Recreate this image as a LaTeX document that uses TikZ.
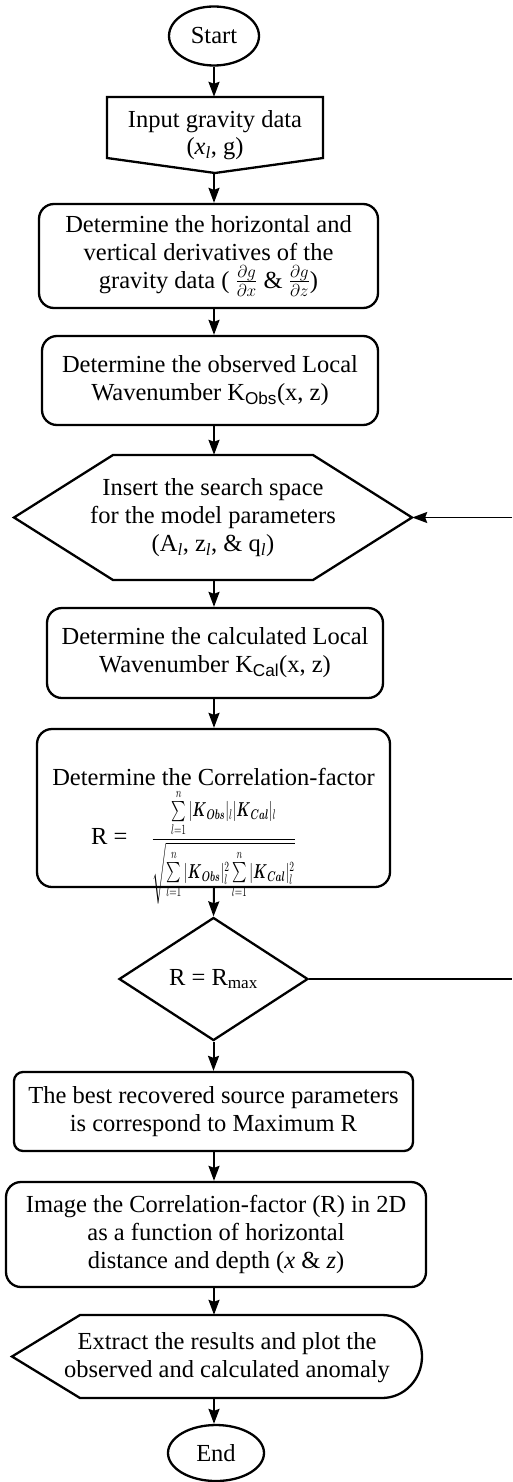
\documentclass[tikz,border=0pt]{standalone}
\usepackage{fontspec}
\setmainfont{Liberation Serif}
\setsansfont{Liberation Sans}
\usepackage{amsmath}
\usepackage{tikz}
\usetikzlibrary{shapes,arrows,arrows.meta,positioning}

\begin{document}
\begin{tikzpicture}[
    x=1pt, y=-1pt,
    terminal/.style={ellipse, draw=black, line width=2.3pt, inner sep=0pt, font=\fontsize{24.5}{28}\selectfont},
    procbox/.style={rectangle, draw=black, line width=2.3pt, rounded corners=15pt, inner sep=0pt, align=center, font=\fontsize{24.5}{28}\selectfont},
    decision/.style={diamond, draw=black, line width=2.3pt, inner sep=0pt, font=\fontsize{24.5}{28}\selectfont},
    outline/.style={draw=black, line width=2.3pt, line join=miter},
    label/.style={align=center, inner sep=0pt, font=\fontsize{24.5}{28}\selectfont},
    flow/.style={-{Stealth[length=15pt, width=11pt, inset=2pt]}, line width=2pt},
    loop/.style={line width=1.4pt}
]
\useasboundingbox (0,0) rectangle (512,1482);

% Start
\node[terminal, minimum width=90pt, minimum height=59pt] (start) at (214,36) {Start};

% Input data - off-page shape
\draw[outline] (107,97) -- (323,97) -- (323,158) -- (215,173) -- (107,158) -- cycle;
\node[label, minimum width=216pt, minimum height=76pt] (input) at (215,135) {Input gravity data\\[-1pt](\textit{x}\textsubscript{\textit{l}}, g)};

% Derivatives
\node[procbox, minimum width=339pt, minimum height=104pt] (deriv) at (208.5,256)
    {Determine the horizontal and\\vertical derivatives of the\\gravity data ( $\frac{\partial g}{\partial x}$ \& $\frac{\partial g}{\partial z}$)};

% Observed local wavenumber
\node[procbox, minimum width=336pt, minimum height=89pt] (obs) at (210,380.5)
    {Determine the observed Local\\Wavenumber K\textsubscript{\sffamily Obs}(x, z)};

% Search space - hexagon
\draw[outline] (14,517.5) -- (113,455) -- (313,455) -- (412,517.5) -- (313,580) -- (113,580) -- cycle;
\node[label, minimum width=398pt, minimum height=125pt] (space) at (213,517.5)
    {Insert the search space\\for the model parameters\\(A\textsubscript{\textit{l}}, z\textsubscript{\textit{l}}, \& q\textsubscript{\textit{l}})};

% Calculated local wavenumber
\node[procbox, minimum width=336pt, minimum height=90pt] (calc) at (215,653)
    {Determine the calculated Local\\Wavenumber K\textsubscript{\sffamily Cal}(x, z)};

% Correlation factor - box and text
\node[procbox, minimum width=353pt, minimum height=158pt] (corr) at (213.5,808) {};
\node[label] (corrtxt) at (213.5,836)
    {Determine the Correlation-factor\\[3pt]
     R =\hspace{24pt}\scalebox{0.95}[1.4]{\fontsize{14}{16}\selectfont$\displaystyle
     \frac{\sum\limits_{l=1}^{n}|\boldsymbol{K}_{\boldsymbol{Obs}}|_l|\boldsymbol{K}_{\boldsymbol{Cal}}|_l}
          {\sqrt{\sum\limits_{l=1}^{n}|\boldsymbol{K}_{\boldsymbol{Obs}}|_l^2\sum\limits_{l=1}^{n}|\boldsymbol{K}_{\boldsymbol{Cal}}|_l^2}}$}\hspace*{40pt}};

% Decision
\node[decision, minimum width=189pt, minimum height=123pt] (dec) at (213.5,979) {R = R\textsubscript{max}};

% Best parameters
\node[procbox, rounded corners=9pt, minimum width=399pt, minimum height=79pt] (best) at (213.5,1111.5)
    {The best recovered source parameters\\is correspond to Maximum R};

% Imaging
\node[procbox, minimum width=420pt, minimum height=105pt] (image) at (216,1234.5)
    {Image the Correlation-factor (R) in 2D\\as a function of horizontal\\distance and depth (\textit{x} \& \textit{z})};

% Extract results - display shape
\draw[outline] (12,1356.5) -- (80,1315) -- (382,1315)
    arc[start angle=90, end angle=-90, x radius=40pt, y radius=41.5pt] -- (80,1398) -- cycle;
\node[label, minimum width=410pt, minimum height=83pt] (extract) at (217,1356.5) {};
\node[label] (extracttxt) at (227,1358) {Extract the results and plot the\\observed and calculated anomaly};

% End
\node[terminal, minimum width=96pt, minimum height=56pt] (end) at (216,1453) {End};

% Main flow
\draw[flow] (start.south) -- (start.south |- input.north);
\draw[flow] (input.south -| start) -- (deriv.north -| start);
\draw[flow] (deriv.south -| start) -- (obs.north -| start);
\draw[flow] (obs.south -| start) -- (space.north -| start);
\draw[flow] (space.south -| start) -- (calc.north -| start);
\draw[flow] (calc.south -| start) -- (corr.north -| start);
\draw[flow] (corr.south -| start) -- (dec.north);
\draw[flow] (dec.south) -- (best.north -| dec);
\draw[flow] (best.south -| start) -- (image.north -| start);
\draw[flow] (image.south -| start) -- (extract.north -| start);
\draw[flow] (extract.south -| start) -- (end.north -| start);

% Loop back (runs off the right edge)
\coordinate (loopout) at (512,979);
\coordinate (loopin) at (512,517.5);
\draw[loop] (dec.east) -- (loopout);
\draw[loop, -{Stealth[length=15pt, width=11pt, inset=2pt]}] (loopin) -- (space.east);

\end{tikzpicture}
\end{document}
